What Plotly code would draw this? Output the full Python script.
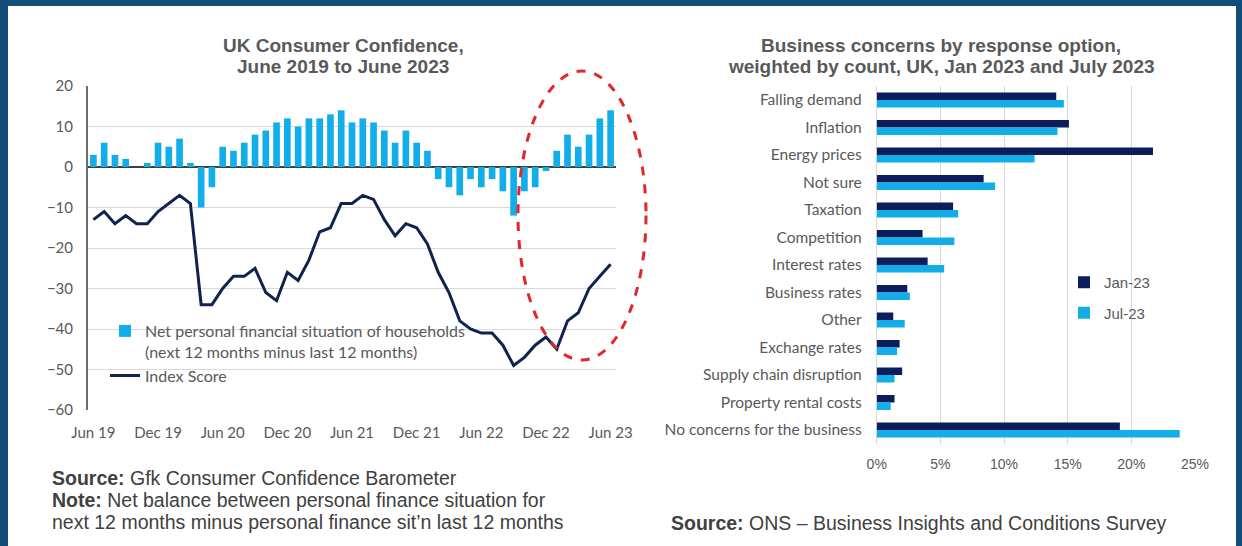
import plotly.graph_objects as go

W, H = 1242, 546

# ---------------- Data ----------------
months = ["Jun 19", "Jul 19", "Aug 19", "Sep 19", "Oct 19", "Nov 19", "Dec 19",
          "Jan 20", "Feb 20", "Mar 20", "Apr 20", "May 20", "Jun 20", "Jul 20",
          "Aug 20", "Sep 20", "Oct 20", "Nov 20", "Dec 20",
          "Jan 21", "Feb 21", "Mar 21", "Apr 21", "May 21", "Jun 21", "Jul 21",
          "Aug 21", "Sep 21", "Oct 21", "Nov 21", "Dec 21",
          "Jan 22", "Feb 22", "Mar 22", "Apr 22", "May 22", "Jun 22", "Jul 22",
          "Aug 22", "Sep 22", "Oct 22", "Nov 22", "Dec 22",
          "Jan 23", "Feb 23", "Mar 23", "Apr 23", "May 23", "Jun 23"]

net_personal_finance = [3, 6, 3, 2, 0, 1, 6,
                        5, 7, 1, -10, -5, 5, 4, 6, 8, 9, 11, 12,
                        10, 12, 12, 13, 14, 11, 12, 11, 9, 6, 9, 6,
                        4, -3, -5, -7, -3, -5, -3, -6, -12, -6, -5, -1,
                        4, 8, 5, 8, 12, 14]

index_score = [-13, -11, -14, -12, -14, -14, -11,
               -9, -7, -9, -34, -34, -30, -27, -27, -25, -31, -33, -26,
               -28, -23, -16, -15, -9, -9, -7, -8, -13, -17, -14, -15,
               -19, -26, -31, -38, -40, -41, -41, -44, -49, -47, -44, -42,
               -45, -38, -36, -30, -27, -24]

left_ticks = ["Jun 19", "Dec 19", "Jun 20", "Dec 20", "Jun 21",
              "Dec 21", "Jun 22", "Dec 22", "Jun 23"]

concerns = ["Falling demand", "Inflation", "Energy prices", "Not sure", "Taxation",
            "Competition", "Interest rates", "Business rates", "Other",
            "Exchange rates", "Supply chain disruption", "Property rental costs",
            "No concerns for the business"]
jan_23 = [14.1, 15.1, 21.7, 8.4, 6.0, 3.6, 4.0, 2.4, 1.3, 1.8, 2.0, 1.4, 19.1]
jul_23 = [14.7, 14.2, 12.4, 9.3, 6.4, 6.1, 5.3, 2.6, 2.2, 1.6, 1.4, 1.1, 23.8]

# ---------------- Styles ----------------
LIGHT = "#12AEEA"
NAVY_LINE = "#0F2250"
NAVY_BAR = "#0B1E5B"
GREY_TXT = "#595959"
DARK_TXT = "#404040"
GRID = "#D9D9D9"
FRAME = "#124E78"
CAL = "Lato, Carlito, Calibri, sans-serif"
ARIAL = "Liberation Sans, Arial, sans-serif"


def px(x):
    return x / W


def py(y):
    return 1 - y / H


fig = go.Figure()

fig.add_trace(go.Bar(
    x=months, y=net_personal_finance, width=0.62,
    marker=dict(color=LIGHT, line=dict(width=0)),
    name="Net personal financial situation of households<br>(next 12 months minus last 12 months)",
    xaxis="x", yaxis="y", legend="legend", legendgroup="a"))
fig.add_trace(go.Scatter(
    x=months, y=index_score, mode="lines",
    line=dict(color=NAVY_LINE, width=3),
    name="Index Score", xaxis="x", yaxis="y", legend="legend", legendgroup="b"))

fig.add_trace(go.Bar(
    y=concerns, x=jan_23, orientation="h", name="Jan-23",
    marker=dict(color=NAVY_BAR, line=dict(width=0)),
    xaxis="x2", yaxis="y2", legend="legend2", legendgroup="c"))
fig.add_trace(go.Bar(
    y=concerns, x=jul_23, orientation="h", name="Jul-23",
    marker=dict(color=LIGHT, line=dict(width=0)),
    xaxis="x2", yaxis="y2", legend="legend2", legendgroup="d"))

annotations = [
    dict(text="<b>UK Consumer Confidence,</b>", x=px(343), y=py(45)),
    dict(text="<b>June 2019 to June 2023</b>", x=px(343), y=py(66)),
    dict(text="<b>Business concerns by response option,</b>", x=px(941), y=py(45)),
    dict(text="<b>weighted by count, UK, Jan 2023 and July 2023</b>", x=px(941), y=py(66)),
]
for a in annotations:
    a.update(xref="paper", yref="paper", xanchor="center", yanchor="middle",
             showarrow=False, font=dict(family=ARIAL, size=19, color=GREY_TXT))

src = [
    ("<b>Source:</b> Gfk Consumer Confidence Barometer", 50, 478),
    ("<b>Note:</b> Net balance between personal finance situation for", 50, 500),
    ("next 12 months minus personal finance sit\u2019n last 12 months", 50, 522),
    ("<b>Source:</b> ONS \u2013 Business Insights and Conditions Survey", 669, 523),
]
for t, x, y in src:
    annotations.append(dict(text=t, x=px(x), y=py(y), xref="paper", yref="paper",
                            xanchor="left", yanchor="middle", showarrow=False,
                            font=dict(family=ARIAL, size=19.5, color=DARK_TXT)))

shapes = [
    # red dashed highlight ellipse
    dict(type="circle", xref="paper", yref="paper",
         x0=px(518), x1=px(646), y0=py(360), y1=py(71),
         line=dict(color="#E3262B", width=3, dash="dash"), layer="above"),
    # frame
    dict(type="rect", xref="paper", yref="paper", x0=0, x1=px(8), y0=0, y1=1,
         fillcolor=FRAME, line=dict(width=0), layer="above"),
    dict(type="rect", xref="paper", yref="paper", x0=0, x1=1, y0=py(6), y1=1,
         fillcolor=FRAME, line=dict(width=0), layer="above"),
    dict(type="rect", xref="paper", yref="paper", x0=px(1236), x1=1, y0=0, y1=1,
         fillcolor=FRAME, line=dict(width=0), layer="above"),
]

fig.update_layout(
    template="none",
    width=W, height=H, autosize=False,
    margin=dict(l=0, r=0, t=0, b=0, pad=0, autoexpand=False),
    paper_bgcolor="white", plot_bgcolor="white",
    barmode="group", bargap=0.45, bargroupgap=0,
    showlegend=True,
    xaxis=dict(domain=[px(88), px(616)], type="category", automargin=False,
               range=[-0.5, len(months) - 0.5],
               tickmode="array", tickvals=left_ticks, ticktext=left_ticks,
               showgrid=False, zeroline=False, showline=False, ticks="",
               ticklabelstandoff=12,
               tickfont=dict(family=CAL, size=15, color=GREY_TXT), anchor="y"),
    yaxis=dict(domain=[py(410), py(86)], range=[-60, 20], dtick=10, automargin=False,
               showgrid=True, gridcolor=GRID, gridwidth=1,
               zeroline=True, zerolinecolor="#3F3F3F", zerolinewidth=1.5,
               showline=True, linecolor="#6E6E6E", linewidth=2,
               ticks="", ticklabelstandoff=10,
               tickfont=dict(family=CAL, size=15, color=GREY_TXT), anchor="x"),
    xaxis2=dict(domain=[px(876.7), px(1195)], range=[0, 25], dtick=5, automargin=False,
                ticksuffix="%", showgrid=True, gridcolor=GRID, gridwidth=1,
                zeroline=True, zerolinecolor=GRID, zerolinewidth=1,
                showline=False, ticks="", ticklabelstandoff=10,
                tickfont=dict(family=ARIAL, size=14, color=GREY_TXT), anchor="y2"),
    yaxis2=dict(domain=[py(443.75), py(86.25)], type="category", automargin=False,
                autorange="reversed", showgrid=False, zeroline=False,
                showline=False, ticks="", ticklabelstandoff=14,
                tickfont=dict(family=CAL, size=15.5, color=GREY_TXT), anchor="x2"),
    legend=dict(x=px(105), y=py(314), xanchor="left", yanchor="top",
                bgcolor="rgba(0,0,0,0)", valign="top", tracegroupgap=0,
                traceorder="grouped", borderwidth=0,
                font=dict(family=CAL, size=16, color=GREY_TXT)),
    legend2=dict(x=px(1064), y=py(266), xanchor="left", yanchor="top",
                 bgcolor="rgba(0,0,0,0)", tracegroupgap=8, traceorder="grouped",
                 borderwidth=0,
                 font=dict(family=ARIAL, size=15, color=GREY_TXT)),
    annotations=annotations,
    shapes=shapes,
)

fig.write_html("out.html")
